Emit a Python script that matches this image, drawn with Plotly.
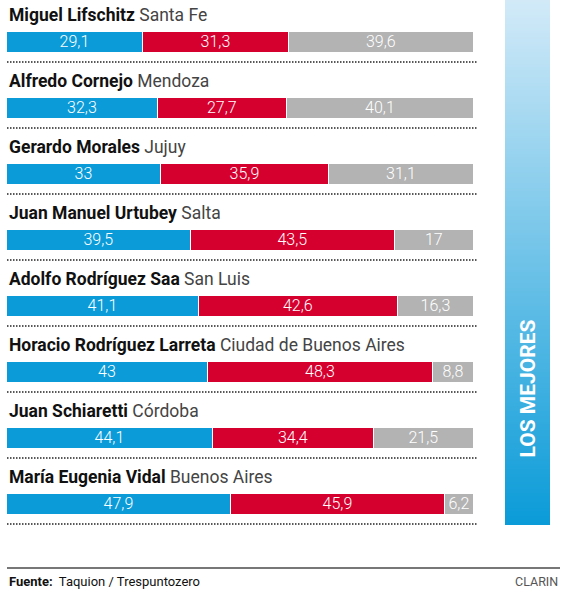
import plotly.graph_objects as go

# Gobernadores: nombre, provincia y porcentajes (positiva / negativa / ns-nc)
names = ['Miguel Lifschitz', 'Alfredo Cornejo', 'Gerardo Morales', 'Juan Manuel Urtubey',
         'Adolfo Rodríguez Saa', 'Horacio Rodríguez Larreta', 'Juan Schiaretti',
         'María Eugenia Vidal']
provinces = ['Santa Fe', 'Mendoza', 'Jujuy', 'Salta', 'San Luis',
             'Ciudad de Buenos Aires', 'Córdoba', 'Buenos Aires']
positive = [29.1, 32.3, 33, 39.5, 41.1, 43, 44.1, 47.9]
negative = [31.3, 27.7, 35.9, 43.5, 42.6, 48.3, 34.4, 45.9]
other = [39.6, 40.1, 31.1, 17, 16.3, 8.8, 21.5, 6.2]

W, H = 568, 600
ROW0, STEP = 42, 66  # pixel centre of first bar, row spacing


def fmt(v):
    return f'{v:g}'.replace('.', ',')


rows = list(range(len(names)))
fig = go.Figure()

for vals, color in [(positive, '#0a9bd8'), (negative, '#d6002f'), (other, '#b3b3b3')]:
    fig.add_trace(go.Bar(
        x=vals, y=rows, orientation='h', width=21 / STEP,
        marker=dict(color=color, line=dict(color='white', width=1.2)),
        text=[fmt(v) for v in vals], textposition='inside',
        insidetextanchor='middle', textangle=0, constraintext='none',
        textfont=dict(family='Roboto', size=16, color='white', weight=300),
        hoverinfo='skip',
    ))

# gradient band on the right
fig.add_trace(go.Heatmap(
    z=[[0], [1]], x=[0], y=[0, 1], zsmooth='best', showscale=False,
    colorscale=[[0, '#d2eaf8'], [1, '#0a9bd8']], hoverinfo='skip',
    xaxis='x2', yaxis='y2',
))

for i in rows:
    fig.add_annotation(
        x=7 / W, xref='paper', y=i - 27 / STEP, yref='y', xanchor='left', yanchor='middle',
        text=f'<b>{names[i]}</b> <span style="color:#444">{provinces[i]}</span>',
        showarrow=False, font=dict(family='Roboto', size=17.5, color='#111'),
    )
    fig.add_shape(
        type='line', xref='paper', yref='y', x0=7 / W, x1=477 / W,
        y0=i + 20 / STEP, y1=i + 20 / STEP,
        line=dict(color='#222', width=1.5, dash='1.5px,1.5px'),
    )

fig.add_annotation(
    x=0.5, xref='x2 domain', y=1 - 389 / H, yref='paper', text='<b>LOS MEJORES</b>',
    textangle=-90, showarrow=False, font=dict(family='Roboto', size=21, color='white'),
)

# footer
fig.add_shape(type='line', xref='paper', yref='paper', x0=7 / W, x1=560 / W,
              y0=1 - 568 / H, y1=1 - 568 / H, line=dict(color='#777', width=2))
fig.add_annotation(
    x=7 / W, xref='paper', y=1 - 581 / H, yref='paper', xanchor='left', yanchor='middle',
    text='<b>Fuente:</b>  Taquion / Trespuntozero', showarrow=False,
    font=dict(family='Roboto', size=13, color='#111'),
)
fig.add_annotation(
    x=560 / W, xref='paper', y=1 - 581 / H, yref='paper', xanchor='right', yanchor='middle',
    text='CLARIN', showarrow=False, font=dict(family='Roboto', size=12.5, color='#555'),
)

fig.update_layout(
    width=W, height=H, margin=dict(l=0, r=0, t=0, b=0),
    barmode='stack', showlegend=False, bargap=0,
    paper_bgcolor='white', plot_bgcolor='rgba(0,0,0,0)',
    xaxis=dict(domain=[7 / W, 474 / W], range=[0, 100], visible=False, fixedrange=True),
    yaxis=dict(domain=[0, 1], range=[(H - ROW0) / STEP, -ROW0 / STEP],
               visible=False, fixedrange=True),
    xaxis2=dict(domain=[505 / W, 550 / W], range=[-0.5, 0.5], visible=False,
                anchor='y2', fixedrange=True),
    yaxis2=dict(domain=[1 - 525 / H, 1], range=[1, 0], visible=False,
                anchor='x2', fixedrange=True),
)

fig.write_html('out.html', config={'displayModeBar': False},
               post_script="document.body.style.margin='0';")
